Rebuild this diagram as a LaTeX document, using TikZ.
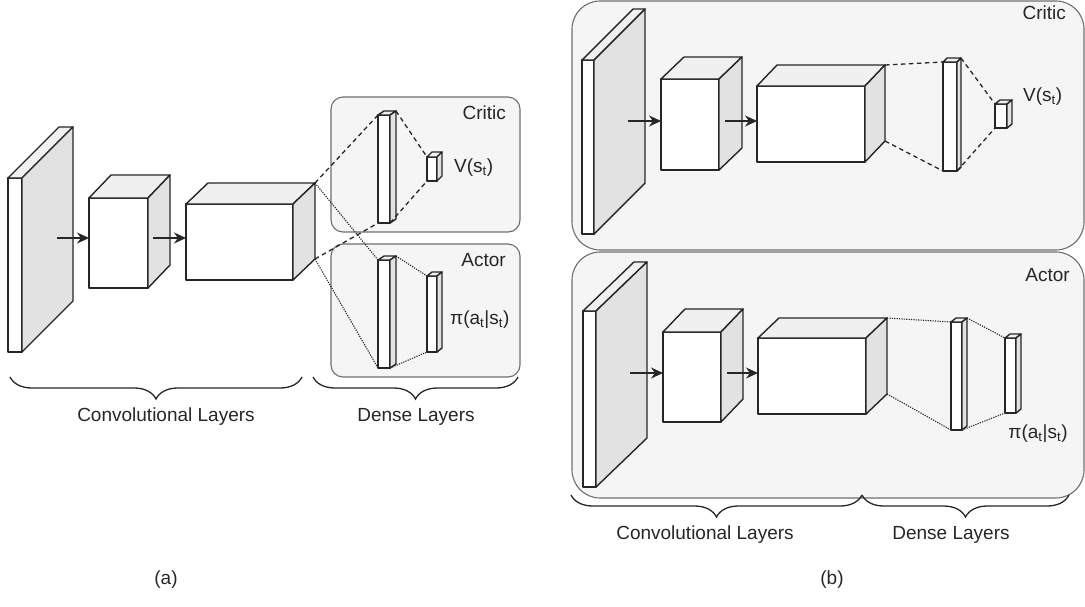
\documentclass[tikz,border=0pt]{standalone}
\usepackage{fontspec}
\setmainfont{Liberation Sans}
\usepackage{tikz}
\usetikzlibrary{arrows.meta,decorations.pathreplacing}
\definecolor{ink}{HTML}{262626}
\definecolor{panelfill}{HTML}{F5F5F5}
\definecolor{panelline}{HTML}{6E6E6E}
\definecolor{topgray}{HTML}{F0F0F0}
\definecolor{sidegray}{HTML}{E2E2E2}
\tikzset{
  face/.style={draw=ink, line width=1.4pt, fill=white, line join=round},
  topface/.style={face, fill=topgray},
  sideface/.style={face, fill=sidegray},
  panel/.style={draw=panelline, line width=1.1pt, fill=panelfill},
  flow/.style={-{Stealth[length=12pt,width=11pt]}, line width=1.4pt, draw=ink},
  dashlink/.style={draw=ink, line width=1.3pt, dash pattern=on 4.5pt off 3.5pt},
  dotlink/.style={draw=ink, line width=1.1pt, dash pattern=on 1.2pt off 1.2pt},
  lbl/.style={font=\fontsize{19}{23}\selectfont, text=ink, inner sep=0pt},
  brc/.style={draw=ink, line width=1.3pt, decorate, decoration={brace,mirror,amplitude=22pt}}
}
\newcommand{\DrawLayer}[7]{% name,x,y,w,h,dx,dy
  \draw[face] (#2,#3) rectangle ++(#4,#5);
  \draw[topface] (#2,#3) -- ++(#6,-#7) -- ++(#4,0) -- ++(-#6,#7) -- cycle;
  \draw[sideface] (#2+#4,#3) -- ++(#6,-#7) -- ++(0,#5) -- ++(-#6,#7) -- cycle;
  \coordinate (#1-ftl) at (#2,#3);
  \coordinate (#1-fbl) at (#2,#3+#5);
  \coordinate (#1-fbr) at (#2+#4,#3+#5);
  \coordinate (#1-btr) at (#2+#4+#6,#3-#7);
  \coordinate (#1-bbr) at (#2+#4+#6,#3+#5-#7);
}
\begin{document}
\begin{tikzpicture}[x=1pt,y=-1pt]
  \clip (0,0) rectangle (1085,606);
  % (a) shared trunk, two heads
  \draw[panel, rounded corners=12pt] (331,97) rectangle (520,232);
  \draw[panel, rounded corners=12pt] (331,244) rectangle (520,377);
  \DrawLayer{a-in}{8}{178}{14}{174}{51}{51}
  \DrawLayer{a-c1}{89}{198}{59}{90}{22}{23}
  \DrawLayer{a-c2}{186}{204}{107}{76}{22}{21}
  \DrawLayer{a-cd}{378}{115}{12}{108}{6}{4}
  \DrawLayer{a-cv}{427}{157}{10}{24}{5}{5}
  \DrawLayer{a-ad}{378}{260}{12}{108}{6}{4}
  \DrawLayer{a-ap}{427}{276}{10}{76}{5}{4}
  \coordinate (a-s1) at (57,238);
  \coordinate (a-s2) at (153,238);
  \draw[flow] (a-s1) -- (a-s1 -| a-c1-ftl);
  \draw[flow] (a-s2) -- (a-s2 -| a-c2-ftl);
  \draw[dashlink] (a-c2-btr) -- (a-cd-ftl);
  \draw[dashlink] (a-c2-bbr) -- (a-cd-fbl);
  \draw[dashlink] (a-cd-btr) -- (a-cv-ftl);
  \draw[dashlink] (a-cd-fbr) -- (a-cv-fbl);
  \draw[dotlink] (a-c2-btr) -- (a-ad-ftl);
  \draw[dotlink] (a-c2-bbr) -- (a-ad-fbl);
  \draw[dotlink] (a-ad-btr) -- (a-ap-ftl);
  \draw[dotlink] (a-ad-fbr) -- (a-ap-fbl);
  \node[lbl, anchor=east] (a-critic) at (506,113) {Critic};
  \node[lbl, anchor=west] (a-value) at (454,168) {V(s\textsubscript{t})};
  \node[lbl, anchor=east] (a-actor) at (506,260) {Actor};
  \node[lbl, anchor=west] (a-policy) at (450,320) {π(a\textsubscript{t}|s\textsubscript{t})};
  \draw[brc] (10,377) -- (302,377);
  \draw[brc] (313,377) -- (518,377);
  \node[lbl] (a-conv) at (166,417) {Convolutional Layers};
  \node[lbl] (a-dense) at (416,417) {Dense Layers};
  \node[lbl] (a-cap) at (166,580) {(a)};
  % (b) two separate networks
  \draw[panel, rounded corners=28pt] (572,1) rectangle (1084,250);
  \draw[panel, rounded corners=28pt] (572,252) rectangle (1084,498);
  \DrawLayer{b-in}{582}{60}{12}{174}{51}{51}
  \DrawLayer{b-c1}{661}{79}{58}{91}{23}{22}
  \DrawLayer{b-c2}{757}{86}{108}{76}{20}{21}
  \DrawLayer{b-cd}{943}{62}{14}{109}{4}{4}
  \DrawLayer{b-cv}{995}{104}{12}{24}{5}{4}
  \DrawLayer{b-in2}{583}{311}{13}{176}{51}{49}
  \DrawLayer{b-a1}{663}{332}{58}{90}{22}{23}
  \DrawLayer{b-a2}{758}{338}{108}{76}{21}{20}
  \DrawLayer{b-ad}{951}{322}{11}{108}{5}{4}
  \DrawLayer{b-ap}{1005}{338}{11}{75}{5}{4}
  \coordinate (b-s1) at (628,121);
  \coordinate (b-s2) at (725,121);
  \coordinate (b-s3) at (630,373);
  \coordinate (b-s4) at (727,373);
  \draw[flow] (b-s1) -- (b-s1 -| b-c1-ftl);
  \draw[flow] (b-s2) -- (b-s2 -| b-c2-ftl);
  \draw[flow] (b-s3) -- (b-s3 -| b-a1-ftl);
  \draw[flow] (b-s4) -- (b-s4 -| b-a2-ftl);
  \draw[dashlink] (b-c2-btr) -- (b-cd-ftl);
  \draw[dashlink] (b-c2-bbr) -- (b-cd-fbl);
  \draw[dashlink] (b-cd-btr) -- (b-cv-ftl);
  \draw[dashlink] (b-cd-fbr) -- (b-cv-fbl);
  \draw[dotlink] (b-a2-btr) -- (b-ad-ftl);
  \draw[dotlink] (b-a2-bbr) -- (b-ad-fbl);
  \draw[dotlink] (b-ad-btr) -- (b-ap-ftl);
  \draw[dotlink] (b-ad-fbr) -- (b-ap-fbl);
  \node[lbl, anchor=east] (b-critic) at (1066,13) {Critic};
  \node[lbl, anchor=west] (b-value) at (1023,97) {V(s\textsubscript{t})};
  \node[lbl, anchor=east] (b-actor) at (1070,275) {Actor};
  \node[lbl] (b-policy) at (1038,434) {π(a\textsubscript{t}|s\textsubscript{t})};
  \draw[brc] (571,495) -- (862,495);
  \draw[brc] (862,495) -- (1069,495);
  \node[lbl] (b-conv) at (705,535) {Convolutional Layers};
  \node[lbl] (b-dense) at (951,535) {Dense Layers};
  \node[lbl] (b-cap) at (832,580) {(b)};
\end{tikzpicture}
\end{document}
